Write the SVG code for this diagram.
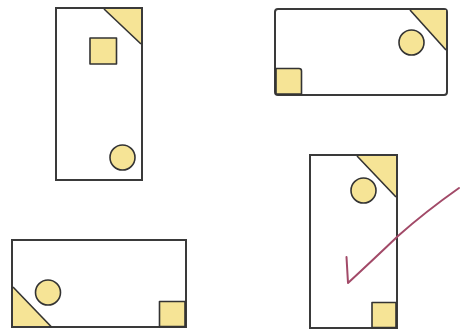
<svg xmlns="http://www.w3.org/2000/svg" width="460" height="329" viewBox="0 0 460 329">
<style>
.frame{fill:#fff;stroke:#3a3a3a;stroke-width:2}
.shape{fill:#f6e496;stroke:#333;stroke-width:1.6;stroke-linejoin:round}
.tri{fill:#f6e496;stroke:none}
.diag{stroke:#333;stroke-width:1.6;fill:none}
.check{fill:none;stroke:#a24a68;stroke-width:2;stroke-linecap:round;stroke-linejoin:round}
</style>
<rect width="460" height="329" fill="#fff"/>
<g id="card1">
<rect class="frame" x="56" y="8" width="86" height="172"/>
<polygon class="tri" points="104,9 141,9 141,44"/>
<line class="diag" x1="104" y1="9" x2="141" y2="44"/>
<rect class="shape" x="90" y="38" width="26.5" height="26"/>
<circle class="shape" cx="122.5" cy="157.5" r="12.5"/>
</g>
<g id="card2">
<rect class="frame" x="275" y="9" width="172" height="86" rx="3"/>
<polygon class="tri" points="410,10 446,10 446,50"/>
<line class="diag" x1="410" y1="10" x2="446" y2="50"/>
<circle class="shape" cx="411.5" cy="42.5" r="12.5"/>
<path class="shape" d="M276,68.5 H299 Q301.5,68.5 301.5,71 V94 H276 Z"/>
</g>
<g id="card3">
<rect class="frame" x="12" y="240" width="174" height="87"/>
<polygon class="tri" points="13,287 13,326 51.5,326"/>
<line class="diag" x1="13" y1="287" x2="51.5" y2="327"/>
<circle class="shape" cx="48" cy="292.5" r="12.5"/>
<rect class="shape" x="159.5" y="301.5" width="25.5" height="25"/>
</g>
<g id="card4">
<rect class="frame" x="310" y="155" width="87" height="173"/>
<polygon class="tri" points="357,156 396,156 396,197"/>
<line class="diag" x1="357" y1="156" x2="396" y2="197"/>
<circle class="shape" cx="363.5" cy="190.5" r="12.5"/>
<rect class="shape" x="372" y="302.5" width="24" height="25"/>
</g>
<g id="connectors">
<path class="check" d="M346.5,257 L348,283 Q375,258 398,236 Q425,212 459,188"/>
</g>
</svg>
